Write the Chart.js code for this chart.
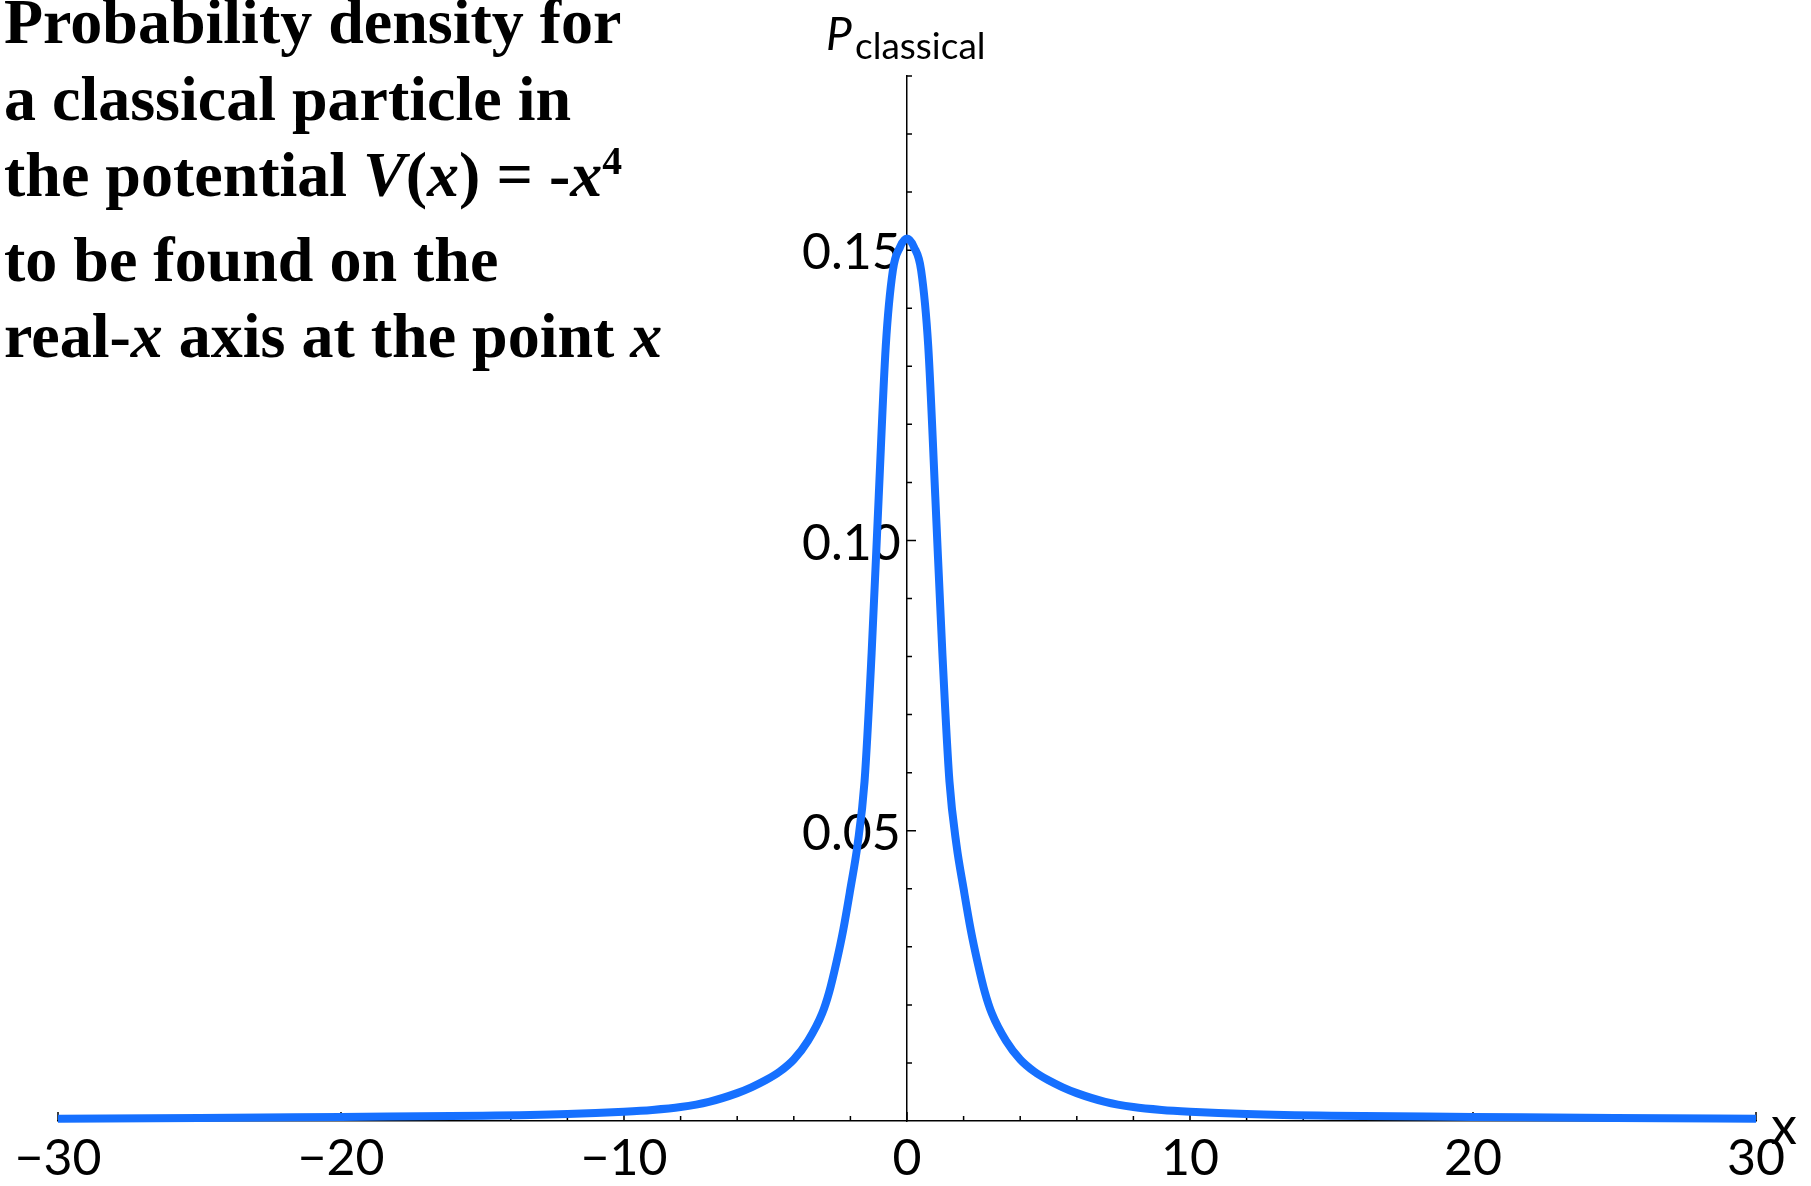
<!DOCTYPE html>
<html>
<head>
<meta charset="utf-8">
<title>Classical probability density, V(x) = -x^4</title>
<script src="https://cdn.jsdelivr.net/npm/chart.js@4.4.1/dist/chart.umd.min.js"></script>
<style>
    html, body { margin: 0; padding: 0; background: #fff; }
    #wrap { position: relative; width: 1811px; height: 1186px; overflow: hidden; }
    #plot { position: absolute; left: 0; top: 0; }
    .title {
        position: absolute; left: 4px; top: -16px;
        font-family: "Liberation Serif", "Times New Roman", serif;
        font-weight: bold; font-size: 64px; line-height: 76.5px;
        color: #000; white-space: nowrap;
    }
    .title i { font-style: italic; }
    .title .sup { position: relative; top: -0.55em; font-size: 0.62em; }
    .lbl { position: absolute; font-family: Lato, sans-serif; line-height: 1.2; color: #000; white-space: nowrap; }
</style>
</head>
<body>
<div id="wrap">
    <canvas id="plot" width="1811" height="1186"></canvas>
    <div class="title">Probability density for<br>a classical particle in<br>the potential <i>V</i>(<i>x</i>) = -<i>x</i><span class="sup">4</span><br>to be found on the<br>real-<i>x</i> axis at the point <i>x</i></div>
    <div class="lbl" style="left:826px; top:5px; font-size:46px; font-style:italic;">P</div>
    <div class="lbl" style="left:855px; top:23px; font-size:37px;">classical</div>
    <div class="lbl" style="left:1771px; top:1093px; font-size:52px;">x</div>
</div>
<script>
// curve (x, P_classical)
const xValues = [-30, -25, -20, -15, -12, -10, -9, -8, -7, -6, -5.5, -5, -4.5, -4, -3.5, -3, -2.75, -2.5, -2.25, -2,
    -1.75, -1.5, -1.25, -1, -0.75, -0.5, -0.25, 0, 0.25, 0.5, 0.75, 1, 1.25, 1.5, 1.75,
    2, 2.25, 2.5, 2.75, 3, 3.5, 4, 4.5, 5, 5.5, 6, 7, 8, 9, 10, 12, 15, 20, 25, 30];
const pValues = [0.0004, 0.0005, 0.0007, 0.0009, 0.0012, 0.0016, 0.0019, 0.0024, 0.0033, 0.0048, 0.0058, 0.0070, 0.0085, 0.0106, 0.0138, 0.0185, 0.0222, 0.0272, 0.0330, 0.0400,
    0.0475, 0.0585, 0.0806, 0.1075, 0.1335, 0.1465, 0.1505, 0.152, 0.1505, 0.1465, 0.1335, 0.1075, 0.0806, 0.0585, 0.0475,
    0.0400, 0.0330, 0.0272, 0.0222, 0.0185, 0.0138, 0.0106, 0.0085, 0.0070, 0.0058, 0.0048, 0.0033, 0.0024, 0.0019, 0.0016, 0.0012, 0.0009, 0.0007, 0.0005, 0.0004];

const xMajor = [-30, -20, -10, 0, 10, 20, 30];
const xTickLabels = ['\u221230', '\u221220', '\u221210', '0', '10', '20', '30'];
const yMajor = [0.05, 0.10, 0.15];
const yTickLabels = ['0.05', '0.10', '0.15'];

const lineColor = '#1670ff';
const tickFont = { family: 'Lato', size: 50 };

const findLabel = (list, labels, v) => {
    const i = list.findIndex(m => Math.abs(m - v) < 1e-9);
    return i >= 0 ? labels[i] : '';
};

// small inward tick marks (Mathematica style), taken from the scales' own ticks
const tickMarks = {
    id: 'tickMarks',
    beforeDatasetsDraw(chart) {
        const { ctx, scales: { x, y } } = chart;
        const x0 = x.getPixelForValue(0);
        const y0 = y.getPixelForValue(0);
        ctx.save();
        ctx.strokeStyle = '#000';
        ctx.lineWidth = 1.5;
        ctx.beginPath();
        x.ticks.forEach(t => {
            const px = x.getPixelForValue(t.value);
            const len = findLabel(xMajor, xTickLabels, t.value) ? 9 : 5;
            ctx.moveTo(px, y0);
            ctx.lineTo(px, y0 - len);
        });
        y.ticks.forEach(t => {
            if (t.value === 0) return;
            const py = y.getPixelForValue(t.value);
            const len = findLabel(yMajor, yTickLabels, t.value) ? 9 : 5;
            ctx.moveTo(x0, py);
            ctx.lineTo(x0 + len, py);
        });
        ctx.stroke();
        ctx.restore();
    }
};

const points = xValues.map((v, i) => ({ x: v, y: pValues[i] }));

new Chart(document.getElementById('plot').getContext('2d'), {
    type: 'line',
    data: {
        datasets: [{
            data: points,
            borderColor: lineColor,
            borderWidth: 8,
            pointRadius: 0,
            fill: false,
            cubicInterpolationMode: 'monotone',
            clip: false
        }]
    },
    options: {
        responsive: false,
        animation: false,
        layout: { padding: { left: 58, right: 55, top: 76, bottom: 65 } },
        plugins: { legend: { display: false }, tooltip: { enabled: false } },
        scales: {
            x: {
                type: 'linear',
                position: { y: 0 },
                min: -30, max: 30,
                grid: { display: false },
                border: { display: true, color: '#000', width: 1.5 },
                ticks: {
                    stepSize: 2, autoSkip: false, maxRotation: 0, padding: 0,
                    color: '#000', font: tickFont,
                    callback: v => findLabel(xMajor, xTickLabels, v)
                }
            },
            y: {
                type: 'linear',
                position: { x: 0 },
                min: 0, max: 0.18,
                grid: { display: false },
                border: { display: true, color: '#000', width: 1.5 },
                ticks: {
                    stepSize: 0.01, autoSkip: false, labelOffset: 3,
                    color: '#000', font: tickFont,
                    // thin space keeps the label clear of the axis line
                    callback: v => { const s = findLabel(yMajor, yTickLabels, v); return s ? s + '\u2009' : ''; }
                }
            }
        }
    },
    plugins: [tickMarks]
});
</script>
</body>
</html>
